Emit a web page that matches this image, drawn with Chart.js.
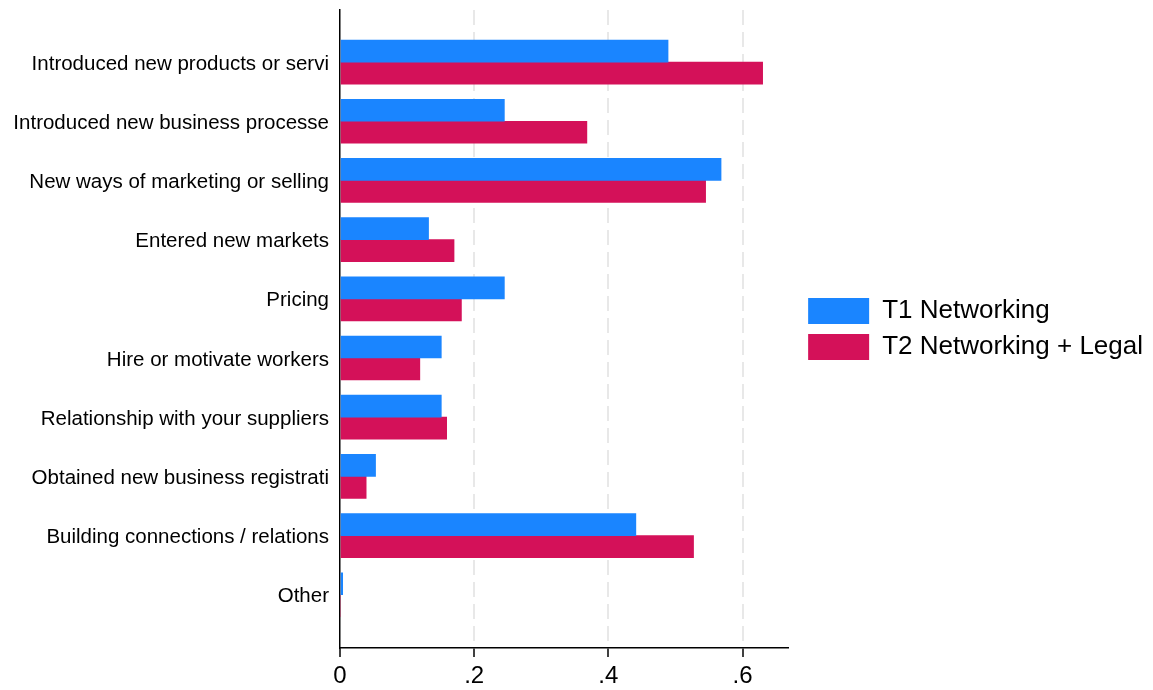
<!DOCTYPE html>
<html>
<head>
<meta charset="utf-8">
<script src="https://cdn.jsdelivr.net/npm/chart.js@4/dist/chart.umd.min.js"></script>
<style>
  html, body { margin: 0; padding: 0; background: #fff; }
  #wrap { width: 1153px; height: 690px; }
</style>
</head>
<body>
<div id="wrap"><canvas id="chart"></canvas></div>
<script>
// Datos
const categories = [
    'Introduced new products or servi',
    'Introduced new business processe',
    'New ways of marketing or selling',
    'Entered new markets',
    'Pricing',
    'Hire or motivate workers',
    'Relationship with your suppliers',
    'Obtained new business registrati',
    'Building connections / relations',
    'Other'
];
const seriesNames = ['T1 Networking', 'T2 Networking + Legal'];
const t1Values = [0.489, 0.245, 0.568, 0.132, 0.245, 0.151, 0.151, 0.053, 0.441, 0.004];
const t2Values = [0.630, 0.368, 0.545, 0.170, 0.181, 0.119, 0.159, 0.039, 0.527, 0];
const xTicks = [0, 0.2, 0.4, 0.6];

const fontFamily = '"Liberation Sans", Arial, Helvetica, sans-serif';
const blue = '#1a85ff';
const red = '#d41159';

const toPoints = values => values.map((v, i) => ({ x: v, y: i }));

new Chart(document.getElementById('chart').getContext('2d'), {
    type: 'bar',
    data: {
        datasets: [
            { label: seriesNames[0], data: toPoints(t1Values), backgroundColor: blue, xAxisID: 'x', yAxisID: 'y', barThickness: 22 },
            { label: seriesNames[1], data: toPoints(t2Values), backgroundColor: red, xAxisID: 'x', yAxisID: 'y', barThickness: 22 }
        ]
    },
    options: {
        indexAxis: 'y',
        responsive: true,
        maintainAspectRatio: false,
        animation: false,
        layout: { padding: { top: 10, right: 0, bottom: 0, left: 0 } },
        plugins: {
            tooltip: { enabled: false },
            legend: {
                position: 'right',
                align: 'center',
                fullSize: false,
                maxWidth: 400,
                labels: {
                    boxWidth: 61,
                    boxHeight: 26,
                    padding: 10,
                    color: '#000',
                    font: { family: fontFamily, size: 26 }
                }
            }
        },
        scales: {
            x: {
                type: 'linear',
                position: 'bottom',
                min: 0,
                max: 0.668,
                afterBuildTicks: s => { s.ticks = xTicks.map(v => ({ value: v })); },
                afterFit: s => { s.height = 42; s.paddingLeft = 0; s.paddingRight = 0; },
                ticks: {
                    color: '#000',
                    padding: 5,
                    font: { family: fontFamily, size: 24 },
                    callback: v => v === 0 ? '0' : v.toFixed(1).replace(/^0/, '')
                },
                grid: {
                    color: ctx => (ctx.tick && ctx.tick.value === 0) ? 'rgba(0,0,0,0)' : '#e8e8e8',
                    lineWidth: 2,
                    tickColor: '#000',
                    tickLength: 9,
                    tickWidth: 1.5
                },
                border: { display: true, color: '#000', width: 1.5, dash: [15, 7] }
            },
            y: {
                type: 'linear',
                position: 'left',
                reverse: true,
                offset: false,
                z: 1, // eje por encima de las barras
                min: -0.88,
                max: 9.9,
                afterBuildTicks: s => { s.ticks = categories.map((c, i) => ({ value: i })); },
                afterFit: s => { s.width = 340; s.paddingTop = 0; s.paddingBottom = 0; },
                ticks: {
                    autoSkip: false,
                    color: '#000',
                    padding: 11,
                    labelOffset: 2,
                    font: { family: fontFamily, size: 20.5 },
                    callback: v => categories[v]
                },
                grid: { display: false, drawTicks: false },
                border: { display: true, color: '#000', width: 1.5 }
            },
            // eje vacío: solo deja hueco entre el gráfico y la leyenda
            gap: {
                type: 'linear',
                position: 'right',
                display: true,
                afterFit: s => { s.width = 10; },
                ticks: { display: false },
                grid: { display: false },
                border: { display: false }
            }
        }
    }
});
</script>
</body>
</html>
